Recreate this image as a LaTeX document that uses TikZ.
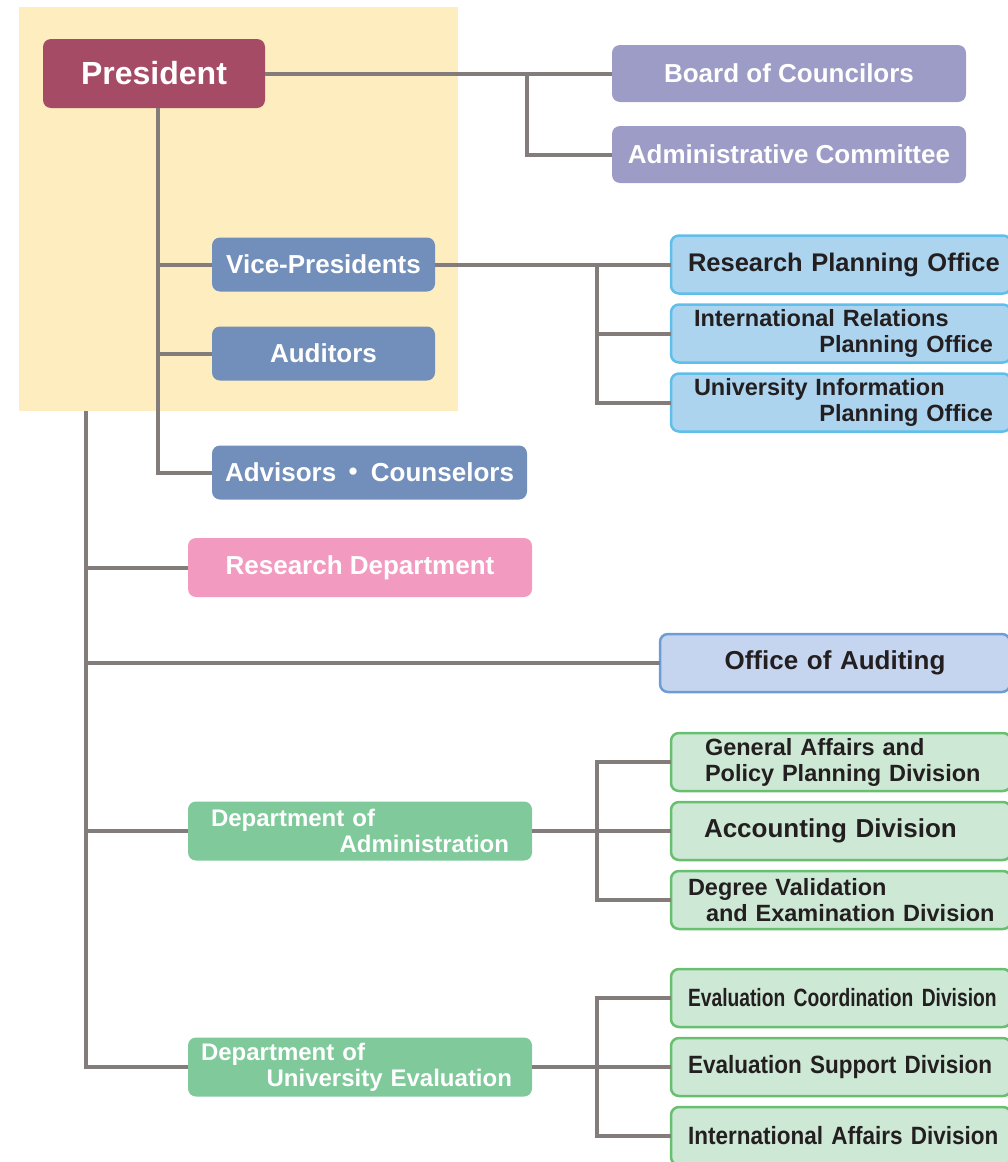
\documentclass[tikz,border=0pt]{standalone}
\usepackage{fontspec}
\setmainfont{Liberation Sans}
\newfontfamily\cjk{Noto Sans CJK JP}
\newfontfamily\narrowa[FakeStretch=0.77]{Liberation Sans}
\newfontfamily\narrowb[FakeStretch=0.9]{Liberation Sans}
\usepackage{tikz}
\usetikzlibrary{positioning}
\definecolor{headred}{HTML}{A54B66}
\definecolor{boardgrey}{HTML}{9C9CC6}
\definecolor{staffblue}{HTML}{728FBB}
\definecolor{officefill}{HTML}{ACD4EF}
\definecolor{officeline}{HTML}{5FBFEA}
\definecolor{auditfill}{HTML}{C6D5EF}
\definecolor{auditline}{HTML}{6E9DD6}
\definecolor{deptpink}{HTML}{F39AC1}
\definecolor{deptgreen}{HTML}{7FC99A}
\definecolor{divfill}{HTML}{CDE8D4}
\definecolor{divline}{HTML}{68BF6F}
\definecolor{paleyellow}{HTML}{FEEDBE}
\definecolor{linkgrey}{HTML}{827C7A}
\definecolor{inkdark}{HTML}{231F20}
\tikzset{org node/.style={shape=rectangle, rounded corners=8pt,
    inner sep=0pt, outer sep=0pt, font=\bfseries\fontsize{26}{28}\selectfont},
  head node/.style={org node, fill=headred, text=white,
    minimum width=222pt, minimum height=69pt,
    font=\bfseries\fontsize{32}{34}\selectfont},
  board node/.style={org node, fill=boardgrey, text=white,
    minimum width=354pt, minimum height=57pt},
  staff node/.style={org node, fill=staffblue, text=white,
    minimum height=54pt},
  office node/.style={org node, draw=officeline, line width=2.5pt,
    fill=officefill, text=inkdark, text width=320pt, inner xsep=10pt,
    align=left, minimum height=58pt},
  division node/.style={office node, draw=divline, fill=divfill},
  dept node/.style={org node, text=white, minimum width=344pt,
    minimum height=59pt},
  two lines/.style={font=\bfseries\fontsize{23.5}{26}\selectfont},
  link/.style={draw=linkgrey, line width=4pt}}

\begin{document}
\begin{tikzpicture}[x=1pt,y=-1pt]
    \useasboundingbox (0,0) rectangle (1008,1162);
    \clip (0,0) rectangle (1008,1162);
    \fill[paleyellow] (19,7) rectangle (458,411);

    \node[head node] (president) at (154,73.5) {President};
    \node[board node] (board) at (789,73.5) {Board of Councilors};
    \node[board node] (admincom) [below = 24pt of board] {Administrative Committee};

    \node[staff node, minimum width=223pt] (vice) at (323.5,264.5) {Vice-Presidents};
    \node[staff node, minimum width=223pt] (auditors) [below = 35pt of vice] {Auditors};
    \node[staff node, minimum width=315pt] (advisors) at (369.5,472.5)
        {Advisors\,{\cjk ・}\,Counselors};

    \node[office node, anchor=west, font=\bfseries\fontsize{25.5}{28}\selectfont]
        (rpo) at (671,264.5) {\hspace*{7pt}Research Planning Office};
    \node[office node, two lines] (irpo) [below = 11pt of rpo]
        {\hspace*{13pt}International Relations\\\hspace*{\fill}Planning Office\kern8pt};
    \node[office node, two lines] (uipo) [below = 11pt of irpo]
        {\hspace*{13pt}University Information\\\hspace*{\fill}Planning Office\kern8pt};

    \node[dept node, fill=deptpink] (resdept) at (360,567.5) {Research Department};
    \node[office node, draw=auditline, fill=auditfill, anchor=west,
        text width=316pt, inner xsep=17pt, align=center] (audit) at (660,663)
        {Office of Auditing};

    \node[dept node, fill=deptgreen, text width=298pt, inner xsep=23pt,
        align=left, font=\bfseries\fontsize{24}{26}\selectfont] (admindept) at (360,831)
        {Department of\\\hspace*{\fill}Administration};
    \node[division node, two lines, anchor=west] (general) at (671,762)
        {\hspace*{24pt}General Affairs and\\\hspace*{24pt}Policy Planning Division};
    \node[division node] (accounting) [below = 11pt of general]
        {\hspace*{23pt}Accounting Division};
    \node[division node, two lines] (degree) [below = 11pt of accounting]
        {\hspace*{7pt}Degree Validation\\\hspace*{25pt}and Examination Division};

    \node[dept node, fill=deptgreen, text width=318pt, inner xsep=13pt,
        align=left, font=\bfseries\fontsize{24}{26}\selectfont] (evaldept) at (360,1067)
        {Department of\\\hspace*{\fill}University Evaluation\kern7pt};
    \node[division node, anchor=west, font=\bfseries\narrowa\fontsize{25}{28}\selectfont]
        (coord) at (671,998) {\hspace*{7pt}Evaluation Coordination Division};
    \node[division node, font=\bfseries\narrowb\fontsize{25}{28}\selectfont]
        (support) [below = 11pt of coord] {\hspace*{7pt}Evaluation Support Division};
    \node[division node, font=\bfseries\narrowb\fontsize{25}{28}\selectfont]
        (intlaff) [below = 11pt of support] {\hspace*{7pt}International Affairs Division};

    % president and its staff
    \coordinate (pjoin) at (527,73.5);
    \coordinate (pstem) at ([xshift=4pt]president.south);
    \draw[link] (president.east) -- (board.west);
    \draw[link] (pjoin) |- (admincom.west);
    \draw[link] (pstem) |- (advisors.west);
    \draw[link] (pstem |- vice.west) -- (vice.west);
    \draw[link] (pstem |- auditors.west) -- (auditors.west);

    % planning offices
    \coordinate (vjoin) at (597,264.5);
    \draw[link] (vice.east) -- (rpo.west);
    \draw[link] (vjoin) |- (uipo.west);
    \draw[link] (vjoin |- irpo.west) -- (irpo.west);

    % main line
    \coordinate (spine) at (86,411);
    \draw[link] (spine) |- (evaldept.west);
    \draw[link] (spine |- resdept.west) -- (resdept.west);
    \draw[link] (spine |- audit.west) -- (audit.west);
    \draw[link] (spine |- admindept.west) -- (admindept.west);

    % divisions
    \coordinate (ajoin) at (597,831);
    \draw[link] (admindept.east) -- (accounting.west);
    \draw[link] (general.west) -| (ajoin) |- (degree.west);
    \coordinate (ejoin) at (597,1067);
    \draw[link] (evaldept.east) -- (support.west);
    \draw[link] (coord.west) -| (ejoin) |- (intlaff.west);
\end{tikzpicture}
\end{document}
